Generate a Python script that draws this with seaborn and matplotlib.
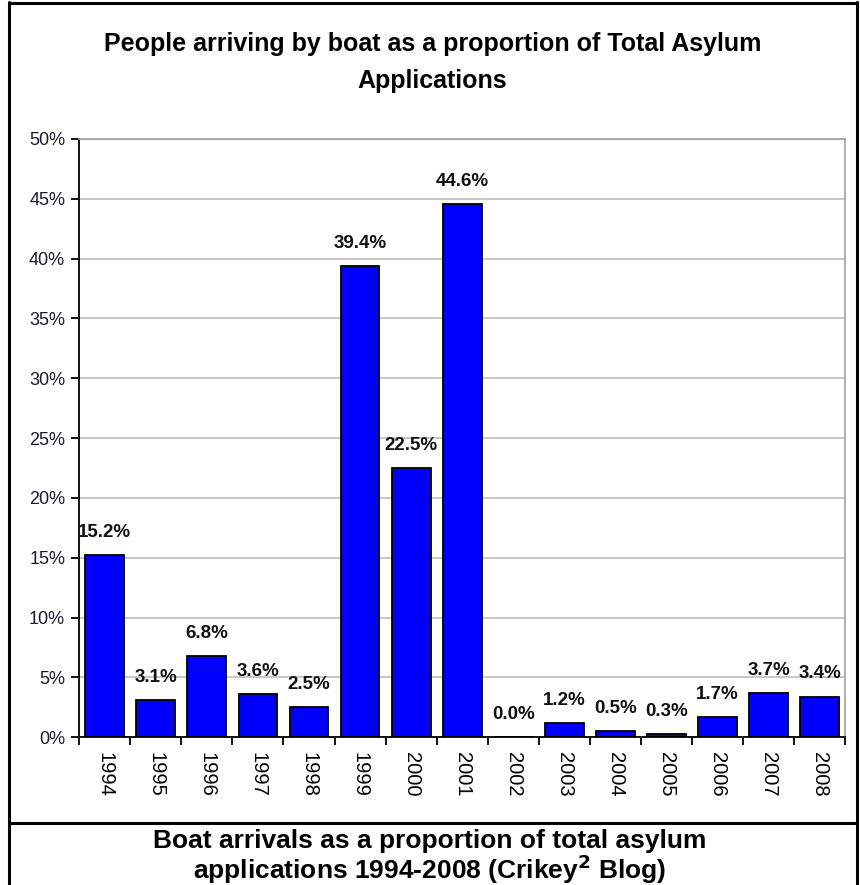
import matplotlib
matplotlib.use("Agg")
import matplotlib.pyplot as plt
import matplotlib.ticker as mticker
from matplotlib.lines import Line2D
import seaborn as sns
import pandas as pd

years = ["1994", "1995", "1996", "1997", "1998", "1999", "2000", "2001",
         "2002", "2003", "2004", "2005", "2006", "2007", "2008"]
boat_share = [15.2, 3.1, 6.8, 3.6, 2.5, 39.4, 22.5, 44.6,
              0.0, 1.2, 0.5, 0.3, 1.7, 3.7, 3.4]

df = pd.DataFrame({"Year": years, "Share": boat_share})

sns.set_style("white")
plt.rcParams["font.family"] = ["Liberation Sans", "DejaVu Sans"]
plt.rcParams["text.color"] = "black"

fig = plt.figure(figsize=(8.6, 8.85), dpi=100)
ax = fig.add_axes([0.092, 0.167, 0.891, 0.676])

sns.barplot(x="Year", y="Share", data=df, color="#0000FF", saturation=1,
            edgecolor="black", linewidth=1.3, width=0.76, ax=ax)

ax.set_xlim(-0.5, len(years) - 0.5)
ax.set_ylim(0, 50)
ax.set_yticks(range(0, 51, 5))
ax.yaxis.set_major_formatter(mticker.FuncFormatter(lambda v, p: f"{v:.0f}%"))
ax.grid(axis="y", color="#bdbdbd", linewidth=1.2)
ax.set_axisbelow(True)
ax.set_xlabel("")
ax.set_ylabel("")

for s in ["left", "bottom"]:
    ax.spines[s].set_color("black")
    ax.spines[s].set_linewidth(1.3)
for s in ["top", "right"]:
    ax.spines[s].set_color("#a0a0a0")
    ax.spines[s].set_linewidth(1.2)

ax.tick_params(axis="y", direction="out", length=6, width=1.3, color="black",
               left=True, labelsize=13, pad=4, labelcolor="#1a1a2e")
ax.tick_params(axis="x", which="major", length=0, labelsize=14.5, pad=11,
               labelrotation=270, labelcolor="black")
ax.set_xticks([i - 0.5 for i in range(len(years) + 1)], minor=True)
ax.tick_params(axis="x", which="minor", direction="out", length=6, width=1.3,
               color="black", bottom=True)

for i, v in enumerate(boat_share):
    ax.annotate(f"{v:.1f}%", (i, v), xytext=(0, 13), textcoords="offset points",
                ha="center", va="baseline", fontsize=13.5, fontweight="bold",
                color="#111111")

fig.text(0.503, 0.950, "People arriving by boat as a proportion of Total Asylum",
         ha="center", va="center", fontsize=18, fontweight="bold")
fig.text(0.503, 0.909, "Applications", ha="center", va="center", fontsize=18,
         fontweight="bold")

fig.text(0.5, 0.050, "Boat arrivals as a proportion of total asylum",
         ha="center", va="center", fontsize=19, fontweight="bold")
fig.text(0.5, 0.018, r"applications 1994-2008 (Crikey$^{\mathbf{2}}$ Blog)",
         ha="center", va="center", fontsize=19, fontweight="bold")

# frame around the chart and caption
lw = 2.2
fig.add_artist(Line2D([0.0105, 0.0105], [0, 0.998], color="black", lw=lw))
fig.add_artist(Line2D([0.997, 0.997], [0, 0.998], color="black", lw=lw))
fig.add_artist(Line2D([0.0105, 0.997], [0.997, 0.997], color="black", lw=lw))
fig.add_artist(Line2D([0.0105, 0.997], [0.0705, 0.0705], color="black", lw=lw))

fig.savefig("out.png", dpi=100)
